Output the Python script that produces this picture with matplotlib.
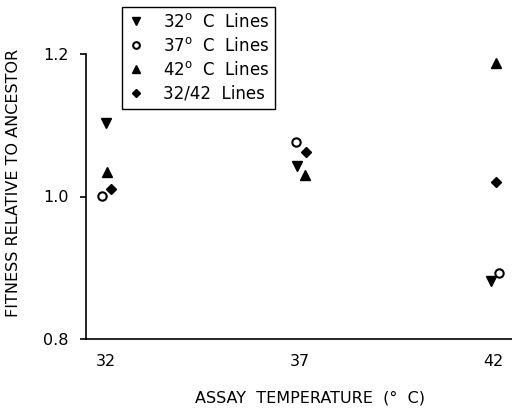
import numpy as np
import matplotlib
matplotlib.use("Agg")
import matplotlib.pyplot as plt

# values (x carries the small offsets used to separate markers)
x_32 = [32.00, 36.92, 41.94]
y_32 = [1.103, 1.043, 0.882]
x_37 = [31.89, 36.91, 42.15]
y_37 = [1.001, 1.077, 0.892]
x_42 = [32.02, 37.14, 42.06]
y_42 = [1.035, 1.030, 1.187]
x_3242 = [32.12, 37.16, 42.06]
y_3242 = [1.010, 1.063, 1.021]

x_ticks = [32, 37, 42]
y_ticks = [0.8, 1.0, 1.2]


def plot_data(fname='out.png'):
    plt.rcParams.update({"font.family": "DejaVu Sans",
                         "font.size": 11,
                         "mathtext.fontset": "dejavusans"})
    fig = plt.figure(figsize=(5.12, 4.09), dpi=100)
    ax = fig.add_axes([86/512, 1-339/409, 434/512, 285/409])

    ax.plot(x_32, y_32, ls='none', marker='v', ms=6.5, c='k', label=r'32$^\mathrm{o}$  C  Lines')
    ax.plot(x_37, y_37, ls='none', marker='o', ms=6, mfc='white', mec='k', mew=1.5,
            label=r'37$^\mathrm{o}$  C  Lines')
    ax.plot(x_42, y_42, ls='none', marker='^', ms=6.5, c='k', label=r'42$^\mathrm{o}$  C  Lines')
    ax.plot(x_3242, y_3242, ls='none', marker='D', ms=5, c='k', label='32/42  Lines')

    ax.set_xlim(31.48, 42.69)
    ax.set_ylim(0.8, 1.2)
    ax.set_xticks(x_ticks)
    ax.set_yticks(y_ticks)
    ax.set_yticklabels(['%.1f' % v for v in y_ticks])
    ax.tick_params(axis='x', length=0, pad=11, labelsize=11.5)
    ax.tick_params(axis='y', direction='out', length=4.3, width=1.2, pad=8, labelsize=11.5)
    for s in ['top', 'right']:
        ax.spines[s].set_visible(False)
    for s in ['left', 'bottom']:
        ax.spines[s].set_linewidth(1.2)

    ax.set_xlabel('ASSAY  TEMPERATURE  (°  C)', fontsize=11.5)
    ax.set_ylabel('FITNESS RELATIVE TO ANCESTOR', fontsize=11.5)
    ax.xaxis.set_label_coords(0.516, -0.18)
    ax.yaxis.set_label_coords(-0.15, 0.546)

    leg = ax.legend(loc='upper left', bbox_to_anchor=(0.083, 1.165), borderaxespad=0,
                    fancybox=False, framealpha=1, edgecolor='k', handletextpad=1.1,
                    handlelength=1.0, labelspacing=0.36, borderpad=0.35, numpoints=1,
                    markerscale=0.8, fontsize=12)
    leg.get_frame().set_linewidth(1.0)

    fig.savefig(fname, dpi=100)
    plt.close(fig)


if __name__ == '__main__':
    plot_data()
